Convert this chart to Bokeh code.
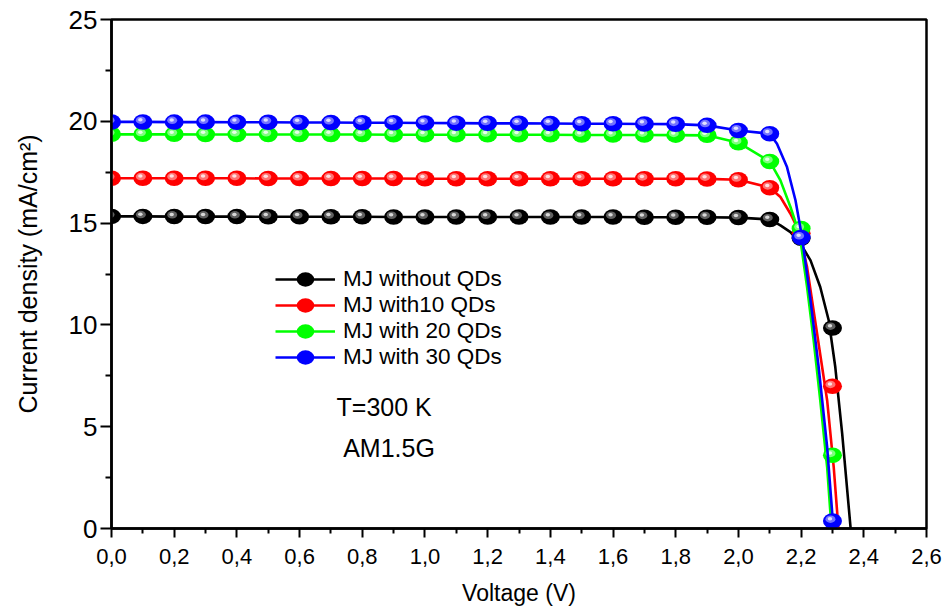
import numpy as np
from bokeh.plotting import figure
from bokeh.models import Range1d, FixedTicker, Legend, LegendItem, Label
from bokeh.embed import file_html
from bokeh.resources import INLINE

# ---------------- data ----------------
voltage = [0.0, 0.1, 0.2, 0.3, 0.4, 0.5, 0.6, 0.7, 0.8, 0.9, 1.0, 1.1,
           1.2, 1.3, 1.4, 1.5, 1.6, 1.7, 1.8, 1.9, 2.0, 2.1, 2.2, 2.3]

black_j = [15.33, 15.33, 15.32, 15.32, 15.32, 15.31, 15.31, 15.31, 15.31, 15.30, 15.30, 15.30,
           15.30, 15.30, 15.30, 15.30, 15.30, 15.29, 15.29, 15.29, 15.27, 15.18, 14.25, 9.85]
red_j = [17.20, 17.20, 17.20, 17.20, 17.20, 17.19, 17.19, 17.19, 17.19, 17.19, 17.18, 17.18,
         17.18, 17.18, 17.18, 17.18, 17.18, 17.18, 17.18, 17.17, 17.13, 16.74, 14.50, 6.99]
green_j = [19.36, 19.36, 19.36, 19.35, 19.35, 19.35, 19.35, 19.35, 19.35, 19.34, 19.34, 19.34,
           19.34, 19.34, 19.34, 19.33, 19.33, 19.33, 19.32, 19.31, 18.95, 18.03, 14.73, 3.60]
blue_j = [19.97, 19.97, 19.96, 19.96, 19.95, 19.95, 19.94, 19.94, 19.93, 19.93, 19.92, 19.91,
          19.90, 19.90, 19.89, 19.88, 19.88, 19.87, 19.86, 19.80, 19.55, 19.39, 14.29, 0.37]

# fitted curves beyond 2.1 V
black_knee_v = [2.134, 2.166, 2.198, 2.230, 2.261, 2.288, 2.309, 2.331, 2.358]
black_knee_j = [14.89, 14.56, 13.99, 13.17, 11.86, 10.23, 7.93, 4.66, 0.0]
red_knee_v = [2.134, 2.166, 2.192, 2.219, 2.251, 2.283, 2.304, 2.319]
red_knee_j = [16.28, 15.46, 14.64, 12.84, 9.57, 6.30, 3.02, 0.0]
green_knee_v = [2.134, 2.166, 2.187, 2.198, 2.219, 2.240, 2.261, 2.283, 2.297]
green_knee_j = [17.10, 15.79, 14.81, 14.15, 11.86, 9.24, 6.30, 3.02, 0.0]
blue_knee_v = [2.123, 2.155, 2.182, 2.203, 2.230, 2.256, 2.283, 2.303]
blue_knee_j = [18.90, 17.75, 16.12, 14.31, 11.21, 7.93, 4.01, 0.0]

series_names = ["MJ without QDs", "MJ with10 QDs", "MJ with 20 QDs", "MJ with 30 QDs"]

x_ticks = [0.0, 0.2, 0.4, 0.6, 0.8, 1.0, 1.2, 1.4, 1.6, 1.8, 2.0, 2.2, 2.4, 2.6]
x_tick_labels = ["0,0", "0,2", "0,4", "0,6", "0,8", "1,0", "1,2", "1,4", "1,6", "1,8",
                 "2,0", "2,2", "2,4", "2,6"]
x_minor_ticks = [0.1, 0.3, 0.5, 0.7, 0.9, 1.1, 1.3, 1.5, 1.7, 1.9, 2.1, 2.3, 2.5]
y_ticks = [0, 5, 10, 15, 20, 25]
y_minor_ticks = [2.5, 7.5, 12.5, 17.5, 22.5]

annotations = ["T=300 K", "AM1.5G"]

# ---------------- styling ----------------
FONT = "Liberation Sans"
colors = ["#000000", "#ff0000", "#00ff00", "#0000ff"]
mid_colors = ["#6a6a6a", "#ff8080", "#8cff8c", "#8080ff"]
hi_colors = ["#d8d8d8", "#ffe0e0", "#e6ffe6", "#e0e0ff"]

p = figure(width=944, height=614,
           x_range=Range1d(0, 2.6), y_range=Range1d(0, 25),
           output_backend="svg", toolbar_location=None,
           min_border_left=111, min_border_top=19,
           min_border_right=18, min_border_bottom=86)

p.xgrid.visible = False
p.ygrid.visible = False
p.outline_line_color = "black"
p.outline_line_width = 2.5
p.background_fill_color = "white"
p.border_fill_color = "white"

p.xaxis.ticker = FixedTicker(ticks=x_ticks, minor_ticks=x_minor_ticks)
p.xaxis.major_label_overrides = dict(zip(x_ticks, x_tick_labels))
p.yaxis.ticker = FixedTicker(ticks=y_ticks, minor_ticks=y_minor_ticks)

for ax in (p.xaxis[0], p.yaxis[0]):
    ax.axis_line_width = 2.5
    ax.axis_line_color = "black"
    ax.major_tick_in = 0
    ax.minor_tick_in = 0
    ax.major_tick_line_width = 2
    ax.minor_tick_line_width = 2
    ax.major_tick_line_color = "black"
    ax.minor_tick_line_color = "black"
    ax.major_label_text_font = FONT
    ax.major_label_text_color = "black"
    ax.axis_label_text_font = FONT
    ax.axis_label_text_font_style = "normal"
    ax.axis_label_text_color = "black"

p.xaxis.major_tick_out = 9
p.xaxis.minor_tick_out = 5
p.yaxis.major_tick_out = 11
p.yaxis.minor_tick_out = 6
p.xaxis.major_label_text_font_size = "22px"
p.yaxis.major_label_text_font_size = "26px"
p.xaxis.major_label_standoff = 11
p.yaxis.major_label_standoff = 3
p.xaxis.axis_label = "Voltage (V)"
p.yaxis.axis_label = "Current density (mA/cm\u00b2)"
p.xaxis.axis_label_text_font_size = "23px"
p.yaxis.axis_label_text_font_size = "25px"
p.xaxis.axis_label_standoff = 13
p.yaxis.axis_label_standoff = 24

all_j = [black_j, red_j, green_j, blue_j]
knees = [(black_knee_v, black_knee_j), (red_knee_v, red_knee_j),
         (green_knee_v, green_knee_j), (blue_knee_v, blue_knee_j)]

v_arr = np.array(voltage)
dx_hi = -2.5 / 313.5   # highlight offset on the balls (about 2.5 px)
dy_hi = 2.2 / 20.37

legend_items = []
for name, j, (kv, kj), c, mc, hc in zip(series_names, all_j, knees, colors, mid_colors, hi_colors):
    j_arr = np.array(j)
    keep = v_arr <= 2.1 + 1e-9
    line_v = list(v_arr[keep]) + list(kv)
    line_j = list(j_arr[keep]) + list(kj)
    lr = p.line(line_v, line_j, line_color=c, line_width=2.6)
    br = p.ellipse(x=v_arr, y=j_arr, width=19, height=15.5,
                   width_units="screen", height_units="screen",
                   fill_color=c, line_color=None)
    p.ellipse(x=v_arr + dx_hi * 0.8, y=j_arr + dy_hi * 0.8, width=10, height=7.5,
              width_units="screen", height_units="screen",
              fill_color=mc, fill_alpha=0.9, line_color=None)
    p.ellipse(x=v_arr + dx_hi, y=j_arr + dy_hi, width=4.5, height=3.5,
              width_units="screen", height_units="screen",
              fill_color=hc, line_color=None)
    legend_items.append(LegendItem(label=name, renderers=[lr, br]))

legend = Legend(items=legend_items, location=(164, 158),
                glyph_width=60, glyph_height=22, label_height=22,
                label_standoff=8, spacing=0, padding=0, margin=0,
                border_line_color=None, background_fill_alpha=0,
                label_text_font=FONT, label_text_font_size="22.5px",
                label_text_color="black")
p.add_layout(legend)

p.add_layout(Label(x=0.718, y=5.98, text=annotations[0], text_font=FONT,
                   text_font_size="25px", text_baseline="middle", text_align="left",
                   text_color="black"))
p.add_layout(Label(x=0.739, y=3.94, text=annotations[1], text_font=FONT,
                   text_font_size="25px", text_baseline="middle", text_align="left",
                   text_color="black"))

open("out.html", "w").write(file_html(p, INLINE))
